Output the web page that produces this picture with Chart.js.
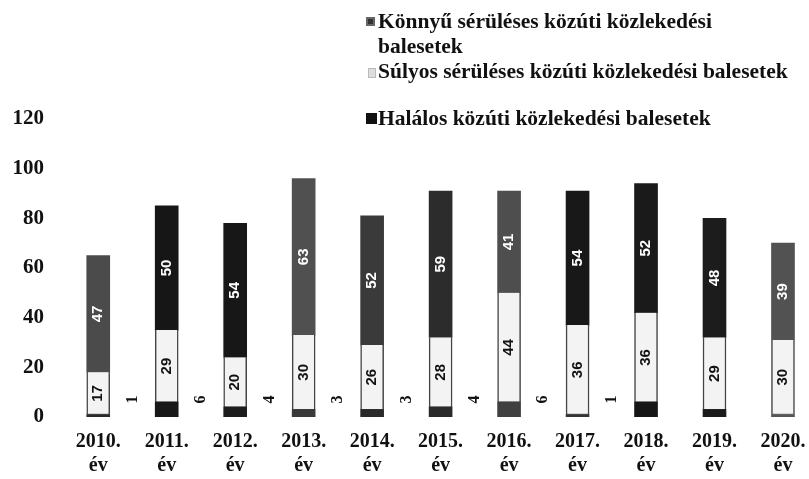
<!DOCTYPE html>
<html>
<head>
<meta charset="utf-8">
<script src="https://cdn.jsdelivr.net/npm/chart.js@4/dist/chart.umd.min.js"></script>
<style>
  body { margin: 0; background: #fff; }
  #wrap { position: relative; width: 809px; height: 479px; overflow: hidden; }
  #chart { position: absolute; left: 0; top: 0; }
  .legend-item {
    position: absolute; left: 378px;
    font: bold 21.5px "Liberation Serif", serif; line-height: 25px; color: #111;
    white-space: nowrap;
  }
  .mk { position: absolute; }
</style>
</head>
<body>
<div id="wrap">
  <canvas id="chart" width="809" height="479"></canvas>
  <span class="mk" style="left:366px;top:17px;width:9px;height:9px;background:#333;box-shadow:inset 0 0 0 2px #666;"></span>
  <div class="legend-item" style="top:9px">Könnyű sérüléses közúti közlekedési<br>balesetek</div>
  <span class="mk" style="left:368px;top:68px;width:6px;height:8px;background:#ddd;border:1px solid #bbb;"></span>
  <div class="legend-item" style="top:59px">Súlyos sérüléses közúti közlekedési balesetek</div>
  <span class="mk" style="left:366px;top:113px;width:11px;height:11px;background:#111;"></span>
  <div class="legend-item" style="top:106px">Halálos közúti közlekedési balesetek</div>
</div>
<script>
const years = ["2010.", "2011.", "2012.", "2013.", "2014.", "2015.", "2016.", "2017.", "2018.", "2019.", "2020."];
const yearSuffix = "év";
const halalos = [1, 6, 4, 3, 3, 4, 6, 1, 6, 3, 1];
const sulyos = [17, 29, 20, 30, 26, 28, 44, 36, 36, 29, 30];
const konnyu = [47, 50, 54, 63, 52, 59, 41, 54, 52, 48, 39];
// the fatal count is printed next to the bar only for these years
const halalosLabelled = [true, true, true, true, true, true, true, true, false, false, false];
const yTicks = [0, 20, 40, 60, 80, 100, 120];

// scanned look: the top segment varies between grey and black
const konnyuColors = ["#4b4b4b", "#161616", "#171717", "#505050", "#3a3a3a", "#2c2c2c", "#4e4e4e", "#181818", "#1a1a1a", "#1c1c1c", "#525252"];
const halalosColors = ["#2a2a2a", "#181818", "#1c1c1c", "#3a3a3a", "#2a2a2a", "#2a2a2a", "#404040", "#333333", "#151515", "#1a1a1a", "#555555"];

const toPoints = (arr) => arr.map((v, i) => ({ x: i, y: v }));

const barLabels = {
  id: "barLabels",
  afterDatasetsDraw(chart) {
    const ctx = chart.ctx;
    const xs = chart.scales.x;
    const ys = chart.scales.y;
    ctx.save();
    ctx.textAlign = "center";
    ctx.textBaseline = "middle";
    chart.data.datasets.forEach((ds, di) => {
      const meta = chart.getDatasetMeta(di);
      meta.data.forEach((bar, i) => {
        const v = ds.data[i].y;
        let x, y;
        if (di === 0) {
          if (!halalosLabelled[i]) return;
          x = xs.getPixelForValue(i + 0.5);
          y = ys.getPixelForValue(7);
          ctx.font = 'bold 16px "Liberation Serif"';
          ctx.fillStyle = "#111";
        } else {
          x = bar.x;
          y = (bar.y + bar.base) / 2;
          ctx.font = 'bold 15px "Liberation Sans"';
          ctx.fillStyle = di === 1 ? "#111" : "#fff";
        }
        ctx.save();
        ctx.translate(x, y);
        ctx.rotate(-Math.PI / 2);
        ctx.fillText(String(v), 0, 0);
        ctx.restore();
      });
    });
    ctx.restore();
  }
};

new Chart(document.getElementById("chart"), {
  type: "bar",
  data: {
    datasets: [
      {
        label: "Halálos közúti közlekedési balesetek",
        data: toPoints(halalos),
        backgroundColor: halalosColors,
        borderWidth: 0,
      },
      {
        label: "Súlyos sérüléses közúti közlekedési balesetek",
        data: toPoints(sulyos),
        backgroundColor: "#f3f3f3",
        borderColor: "#444",
        borderWidth: { left: 1.5, right: 1.5, top: 0, bottom: 1 },
        borderSkipped: false,
      },
      {
        label: "Könnyű sérüléses közúti közlekedési balesetek",
        data: toPoints(konnyu),
        backgroundColor: konnyuColors,
        borderWidth: 0,
      },
    ],
  },
  options: {
    responsive: false,
    animation: false,
    barThickness: 23,
    layout: { autoPadding: false, padding: { left: 4, top: 119, right: 0, bottom: 2 } },
    plugins: {
      legend: { display: false },
      tooltip: { enabled: false },
    },
    scales: {
      x: {
        type: "linear",
        offset: false,
        stacked: true,
        min: -0.5,
        max: 10.38,
        grid: { display: false, drawTicks: false },
        border: { display: false },
        afterBuildTicks: (scale) => {
          scale.ticks = years.map((_, i) => ({ value: i }));
        },
        afterFit: (scale) => {
          scale.height = 60;
          scale.paddingLeft = 0;
          scale.paddingRight = 0;
        },
        ticks: {
          autoSkip: false,
          maxRotation: 0,
          padding: 13,
          color: "#111",
          font: { family: "Liberation Serif", size: 20, weight: "bold", lineHeight: 1.2 },
          callback: (v) => [years[v], yearSuffix],
        },
      },
      y: {
        stacked: true,
        min: 0,
        max: 120,
        grid: { display: false, drawTicks: false },
        border: { display: false },
        afterBuildTicks: (scale) => {
          scale.ticks = yTicks.map((v) => ({ value: v }));
        },
        afterFit: (scale) => {
          scale.width = 60;
        },
        ticks: {
          padding: 20,
          color: "#111",
          font: { family: "Liberation Serif", size: 21, weight: "bold" },
        },
      },
    },
  },
  plugins: [barLabels],
});
</script>
</body>
</html>
